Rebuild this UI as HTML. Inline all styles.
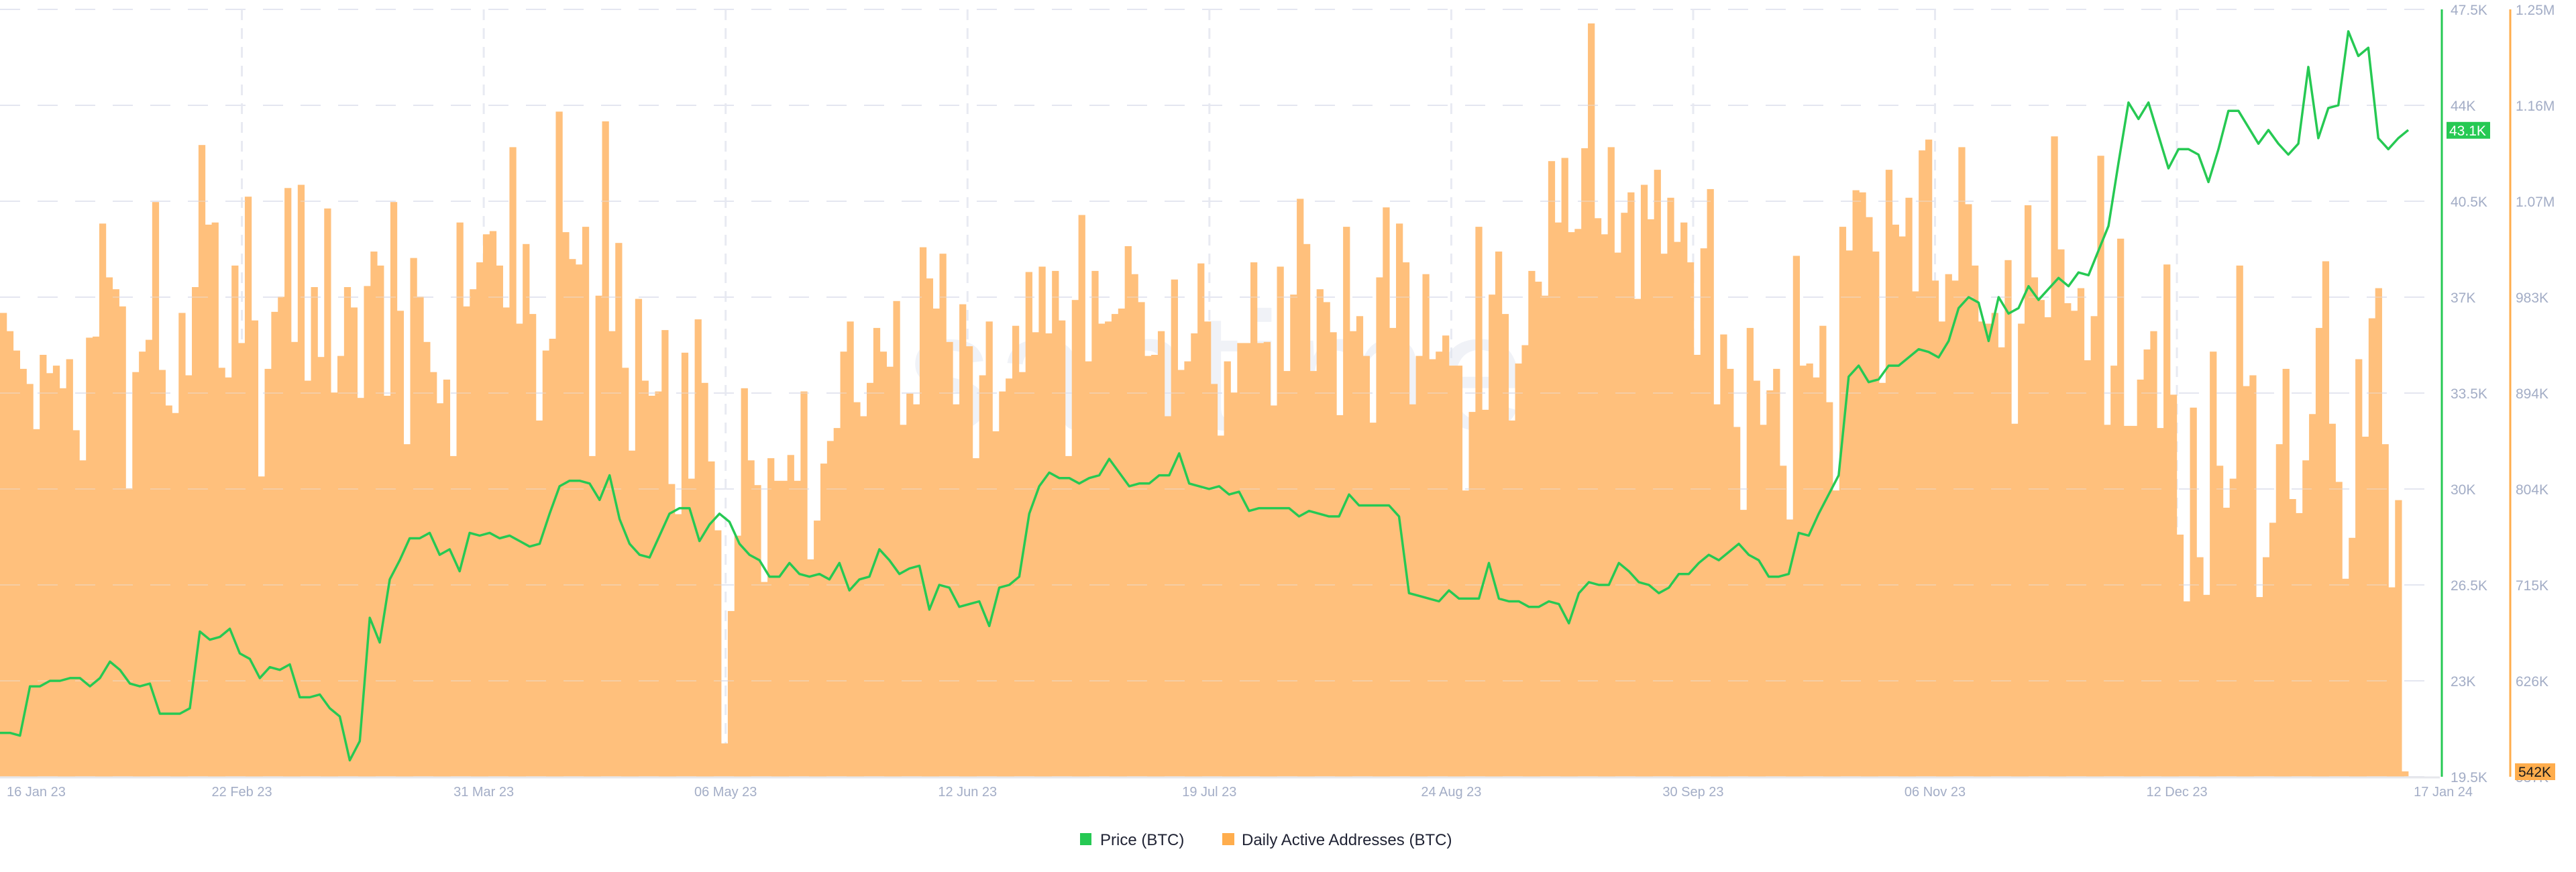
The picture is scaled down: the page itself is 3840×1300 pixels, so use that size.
<!DOCTYPE html>
<html><head><meta charset="utf-8"><title>BTC Price vs Daily Active Addresses</title>
<style>
html,body{margin:0;padding:0;background:#fff;}
svg{display:block;font-family:"Liberation Sans",Arial,sans-serif;}
</style></head>
<body>
<svg id="chart" width="3840" height="1300" viewBox="0 0 3840 1300" xmlns="http://www.w3.org/2000/svg">
  <rect x="0" y="0" width="3840" height="1300" fill="#ffffff"/>
  <g id="grid"></g>
  <text x="1930" y="640" text-anchor="middle" font-size="250" fill="#dfe3ee" opacity="0.45" letter-spacing="8">santiment</text>
  <g id="bars"></g>
  <g id="gridover"></g>
  <g id="line"></g>
  <g id="axes"></g>
  <g id="legend">
    <rect x="1610" y="1242" width="17" height="18" fill="#26c953"/>
    <text x="1640" y="1260" font-size="24" fill="#1f2233">Price (BTC)</text>
    <rect x="1822" y="1242" width="18" height="18" fill="#ffad4d"/>
    <text x="1851" y="1260" font-size="24" fill="#1f2233">Daily Active Addresses (BTC)</text>
  </g>
</svg>
<script>
// ---- data ----
const barValues = [968,951,933,916,902,860,929,912,919,898,925,859,831,945,946,1051,1001,990,974,805,913,932,943,1071,915,882,875,968,910,992,1124,1050,1052,917,908,1012,940,1076,961,816,916,969,983,1084,941,1087,905,
992,927,1065,894,928,992,973,889,993,1025,1012,891,1071,970,846,1019,983,941,913,884,906,835,1052,974,990,1015,1041,1044,1012,973,1122,958,1032,967,868,933,944,1155,1043,1018,1013,1048,835,984,1146,
951,1033,917,840,981,905,891,895,952,809,781,931,814,962,903,830,766,568,691,761,898,831,808,718,833,812,812,836,812,895,739,775,828,849,861,932,960,885,872,903,954,932,918,979,864,
893,883,1029,1000,972,1023,941,883,976,937,833,910,960,858,895,907,956,913,1006,950,1011,949,1007,961,835,980,1059,923,1007,958,960,967,972,1030,1004,978,928,929,951,872,999,915,923,949,1014,960,
902,854,923,894,940,940,1015,940,941,882,1011,914,985,1074,1032,914,990,978,950,873,1048,951,965,928,866,1001,1066,954,1051,1015,883,928,1004,925,932,947,919,919,803,876,1048,878,985,1025,967,868,
921,938,1007,997,984,1109,1052,1112,1043,1046,1121,1237,1056,1041,1122,1024,1061,1080,981,1087,1055,1101,1023,1075,1034,1052,1015,929,1028,1083,883,948,916,862,785,954,905,864,896,916,826,776,1021,919,921,908,
956,885,803,1048,1026,1082,1080,1057,1025,903,1101,1050,1039,1075,988,1119,1129,998,960,1004,998,1122,1069,1012,960,958,968,936,1017,865,958,1068,1001,980,964,1132,1027,977,970,991,924,965,1114,864,919,1037,
863,863,906,934,951,861,1013,892,762,700,880,741,706,932,826,787,814,1012,900,910,704,741,773,846,916,795,782,831,874,954,1016,865,811,721,759,925,853,963,991,846,713,794,542];

const priceValues = [21.1,21.1,21.0,22.8,22.8,23.0,23.0,23.1,23.1,22.8,23.1,23.7,23.4,22.9,22.8,22.9,21.8,21.8,21.8,22.0,24.8,24.5,24.6,24.9,24.0,23.8,23.1,23.5,23.4,23.6,22.4,
22.4,22.5,22.0,21.7,20.1,20.8,25.3,24.4,26.7,27.4,28.2,28.2,28.4,27.6,27.8,27.0,28.4,28.3,28.4,28.2,28.3,28.1,27.9,28.0,29.1,30.1,30.3,30.3,30.2,29.6,
30.5,28.9,28.0,27.6,27.5,28.3,29.1,29.3,29.3,28.1,28.7,29.1,28.8,28.0,27.6,27.4,26.8,26.8,27.3,26.9,26.8,26.9,26.7,27.3,26.3,26.7,26.8,27.8,27.4,26.9,27.1,
27.2,25.6,26.5,26.4,25.7,25.8,25.9,25.0,26.4,26.5,26.8,29.1,30.1,30.6,30.4,30.4,30.2,30.4,30.5,31.1,30.6,30.1,30.2,30.2,30.5,30.5,31.3,30.2,30.1,30.0,
30.1,29.8,29.9,29.2,29.3,29.3,29.3,29.3,29.0,29.2,29.1,29.0,29.0,29.8,29.4,29.4,29.4,29.4,29.0,26.2,26.1,26.0,25.9,26.3,26.0,26.0,26.0,27.3,26.0,25.9,
25.9,25.7,25.7,25.9,25.8,25.1,26.2,26.6,26.5,26.5,27.3,27.0,26.6,26.5,26.2,26.4,26.9,26.9,27.3,27.6,27.4,27.7,28.0,27.6,27.4,26.8,26.8,26.9,28.4,28.3,
29.1,29.8,30.5,34.1,34.5,33.9,34.0,34.5,34.5,34.8,35.1,35.0,34.8,35.4,36.6,37.0,36.8,35.4,37.0,36.4,36.6,37.4,36.9,37.3,37.7,37.4,37.9,37.8,38.7,39.6,
41.9,44.1,43.5,44.1,42.9,41.7,42.4,42.4,42.2,41.2,42.4,43.8,43.8,43.2,42.6,43.1,42.6,42.2,42.6,45.4,42.8,43.9,44.0,46.7,45.8,46.1,42.8,42.4,42.8,43.1];

const priceTicks = ["47.5K","44K","40.5K","37K","33.5K","30K","26.5K","23K","19.5K"];
const volumeTicks = ["1.25M","1.16M","1.07M","983K","894K","804K","715K","626K","537K"];
const dateLabels = ["16 Jan 23","22 Feb 23","31 Mar 23","06 May 23","12 Jun 23","19 Jul 23","24 Aug 23","30 Sep 23","06 Nov 23","12 Dec 23","17 Jan 24"];
const dateDays = [0,37,74,111,148,185,222,259,296,333,370];
const priceMin = 19.5, priceMax = 47.5;
const volMin = 537, volMax = 1250;
const lastPriceLabel = "43.1K";
const lastVolumeLabel = "542K";

// ---- layout ----
const NS = "http://www.w3.org/2000/svg";
const TOP = 14, BOTTOM = 1158, PLOT_R = 3637, DATA_R = 3590;
const PX_PER_DAY = 9.745;
function yPrice(p){ return TOP + (priceMax - p) / (priceMax - priceMin) * (BOTTOM - TOP); }
function yVol(v){ return TOP + (volMax - v) / (volMax - volMin) * (BOTTOM - TOP); }
function xBar(i){ return i * DATA_R / barValues.length; }
function xPrice(i){ return i * DATA_R / (priceValues.length - 1); }
function xDay(d){ return d * PX_PER_DAY; }
function mk(tag, attrs, parent){ const e = document.createElementNS(NS, tag); for (const k in attrs) e.setAttribute(k, attrs[k]); parent.appendChild(e); return e; }

const bars = document.getElementById('bars');
const grid = document.getElementById('grid');
const gridover = document.getElementById('gridover');
const line = document.getElementById('line');
const axes = document.getElementById('axes');

for (let k = 0; k < priceTicks.length; k++) {
  const y = TOP + k * (BOTTOM - TOP) / (priceTicks.length - 1);
  const g = mk('line', {x1:0, x2:PLOT_R - 4, y1:y, y2:y, stroke:'#e4e6f0', 'stroke-width':2, 'stroke-dasharray':'30 26'}, grid);
  
  
  const g2 = mk('line', {x1:0, x2:PLOT_R - 4, y1:y, y2:y, stroke:'#e4e6f0', 'stroke-width':2, 'stroke-dasharray':'30 26', opacity:0.35}, gridover);
  
  
}
for (let k = 1; k < dateDays.length - 1; k++) {
  const x = xDay(dateDays[k]);
  const g = mk('line', {x1:x, x2:x, y1:TOP, y2:BOTTOM, stroke:'#e8eaf2', 'stroke-width':3, 'stroke-dasharray':'16 12'}, grid);
  
  
}

const bw = DATA_R / barValues.length;
for (let i = 0; i < barValues.length; i++) {
  const y = yVol(barValues[i]);
  const r = mk('rect', {x:xBar(i).toFixed(2), y:y.toFixed(1), width:(bw + 0.4).toFixed(2), height:(BOTTOM - y).toFixed(1), fill:'#ffc07c'}, bars);
  
  
}

let d = '';
for (let i = 0; i < priceValues.length; i++) {
  d += (i ? 'L' : 'M') + xPrice(i).toFixed(1) + ' ' + yPrice(priceValues[i]).toFixed(1);
}
const pl = mk('path', {d:d, fill:'none', stroke:'#26c953', 'stroke-width':3.5, 'stroke-linejoin':'round'}, line);



const base = mk('line', {x1:0, x2:PLOT_R, y1:BOTTOM + 1, y2:BOTTOM + 1, stroke:'#e6e7ec', 'stroke-width':3}, axes);


const gAx = mk('line', {x1:3640, x2:3640, y1:TOP, y2:BOTTOM, stroke:'#26c953', 'stroke-width':3}, axes);


const oAx = mk('line', {x1:3742, x2:3742, y1:TOP, y2:BOTTOM, stroke:'#ffad4d', 'stroke-width':3}, axes);



for (let k = 0; k < priceTicks.length; k++) {
  const y = TOP + k * (BOTTOM - TOP) / (priceTicks.length - 1);
  const t = mk('text', {x:3653, y:y + 8, 'font-size':21, fill:'#a3adc6'}, axes);
  t.textContent = priceTicks[k];
  
  
  const t2 = mk('text', {x:3750, y:y + 8, 'font-size':21, fill:'#a3adc6'}, axes);
  t2.textContent = volumeTicks[k];
  
  
}
for (let k = 0; k < dateLabels.length; k++) {
  let x = xDay(dateDays[k]), anchor = 'middle';
  if (k === 0) { x = 10; anchor = 'start'; }
  if (k === dateLabels.length - 1) { x = 3686; anchor = 'end'; }
  const t = mk('text', {x:x, y:1187, 'font-size':20, fill:'#a3adc6', 'text-anchor':anchor}, axes);
  t.textContent = dateLabels[k];
  
  
}

const yLast = yPrice(priceValues[priceValues.length - 1]);
const pb = mk('rect', {x:3647, y:yLast - 12, width:65, height:25, fill:'#26c953'}, axes);


const pbt = mk('text', {x:3651, y:yLast + 8, 'font-size':21, fill:'#ffffff'}, axes);
pbt.textContent = lastPriceLabel;


const vb = mk('rect', {x:3749, y:1138, width:60, height:25, fill:'#ffad4d'}, axes);


const vbt = mk('text', {x:3754, y:1158, 'font-size':21, fill:'#1a1a1a'}, axes);
vbt.textContent = lastVolumeLabel;


</script>
</body></html>
